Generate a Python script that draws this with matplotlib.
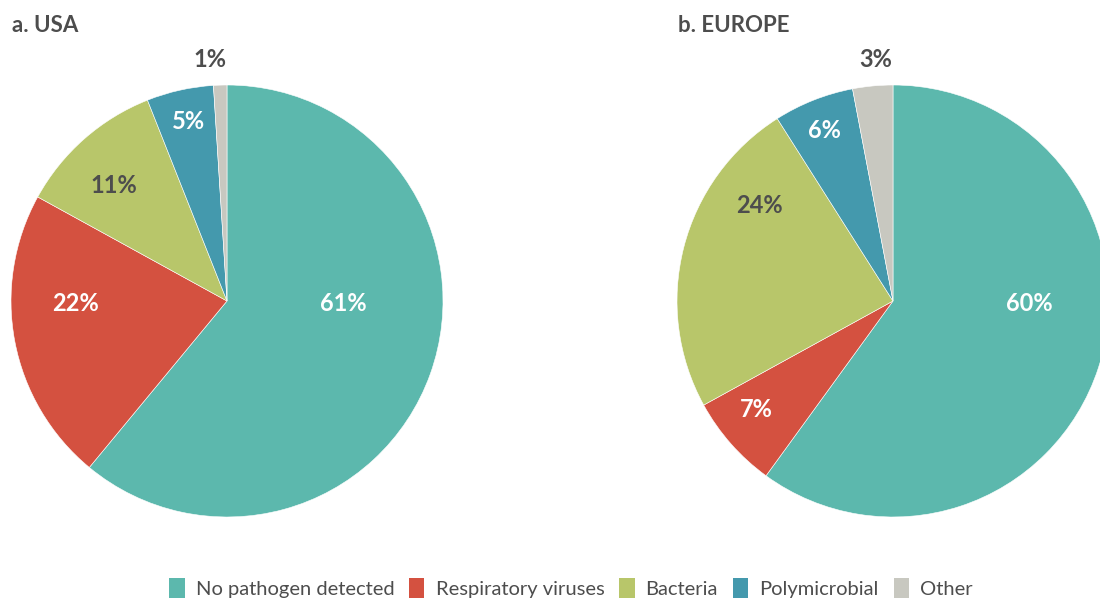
import matplotlib
matplotlib.use("Agg")
import matplotlib.pyplot as plt
import numpy as np
from matplotlib.patches import Patch

plt.rcParams['font.family'] = ['Lato', 'DejaVu Sans']

categories = ['No pathogen detected', 'Respiratory viruses', 'Bacteria', 'Polymicrobial', 'Other']
colors = ['#5cb8ad', '#d45140', '#b8c66a', '#4499ad', '#c8c8c0']
usa = [61, 22, 11, 5, 1]
europe = [60, 7, 24, 6, 3]
usa_labels = ['61%', '22%', '11%', '5%', '1%']
europe_labels = ['60%', '7%', '24%', '6%', '3%']

# label placement (angle in degrees, radius fraction) and colour
usa_pos = [(-1, 0.54), (181, 0.70), (134.5, 0.75), (102, 0.85), (94, 1.12)]
europe_pos = [(-1, 0.63), (218.5, 0.81), (144.5, 0.76), (112, 0.85), (94, 1.12)]
usa_tc = ['white', 'white', '#4d4d4d', 'white', '#4d4d4d']
europe_tc = ['white', 'white', '#4d4d4d', 'white', '#4d4d4d']

fig = plt.figure(figsize=(11, 6.01), dpi=100)

W, H = 1100, 601
R = 216


def draw(cx, cy, vals, labels, pos, tcs):
    ax = fig.add_axes([(cx - R) / W, (H - cy - R) / H, 2 * R / W, 2 * R / H])
    ax.pie(vals, colors=colors, startangle=90, counterclock=False, radius=1,
           wedgeprops=dict(edgecolor='white', linewidth=0.4))
    ax.set_xlim(-1, 1)
    ax.set_ylim(-1, 1)
    ax.set_aspect('equal')
    ax.axis('off')
    for lab, (ang, r), tc in zip(labels, pos, tcs):
        a = np.deg2rad(ang)
        ax.text(r * np.cos(a), r * np.sin(a), lab, ha='center', va='center',
                fontsize=17, fontweight='bold', color=tc, clip_on=False)
    return ax


draw(227, 301, usa, usa_labels, usa_pos, usa_tc)
draw(893, 301, europe, europe_labels, europe_pos, europe_tc)

fig.text(12 / W, 1 - 25 / H, 'a. USA', fontsize=16, fontweight='bold', color='#4d4d4d', va='center', ha='left')
fig.text(678 / W, 1 - 25 / H, 'b. EUROPE', fontsize=16, fontweight='bold', color='#4d4d4d', va='center', ha='left')

handles = [Patch(facecolor=c, edgecolor='none') for c in colors]
fig.legend(handles, categories, loc='center', bbox_to_anchor=(571 / W, 1 - 588 / H), ncol=5,
           frameon=False, fontsize=14.5, handlelength=0.75, handleheight=1.1,
           handletextpad=0.55, columnspacing=0.75, labelcolor='#4d4d4d')

fig.savefig('out.png', dpi=100)
